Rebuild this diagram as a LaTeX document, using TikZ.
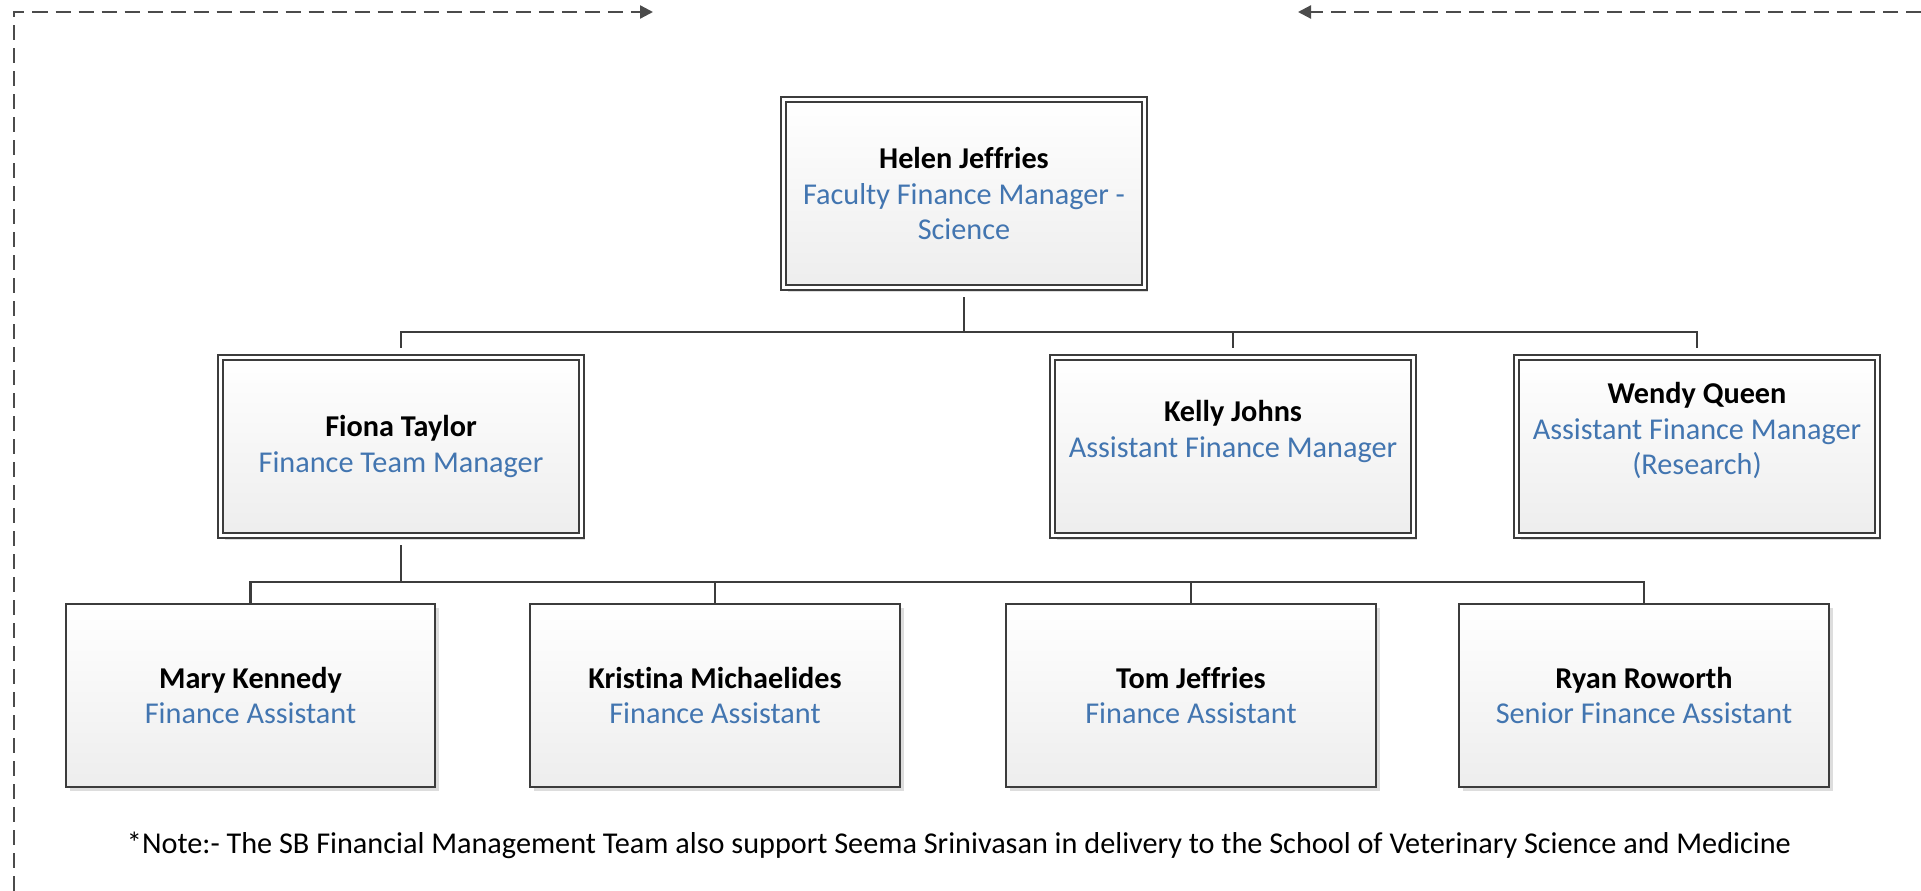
\documentclass[tikz,border=0pt]{standalone}
\usepackage{fontspec}
\setmainfont[Ligatures=NoCommon]{Carlito}
\usetikzlibrary{shadows,arrows.meta}
\definecolor{roleblue}{RGB}{66,117,176}
\definecolor{linegray}{RGB}{60,60,60}
\definecolor{dashgray}{RGB}{75,75,75}
\newcommand{\orgrole}[1]{\textcolor{roleblue}{#1}}

\begin{document}
\begin{tikzpicture}[x=0.01cm,y=-0.01cm,
  staff node/.style={rectangle,draw=linegray,line width=0.55pt,top color=white,bottom color=black!7,
    inner sep=0pt,outer sep=0.25pt,align=center,font=\fontsize{8.6}{10.1}\selectfont,
    drop shadow={shadow xshift=0.04cm,shadow yshift=-0.04cm,opacity=0.22,fill=black!60},
    minimum width=3.69cm,minimum height=1.83cm},
  head node/.style={staff node,double=white,double distance=0.03cm,
    minimum width=3.6cm,minimum height=1.78cm,outer sep=0.095cm},
  conn/.style={draw=linegray,line width=0.7pt},
  frame/.style={draw=dashgray,line width=0.65pt,dash pattern=on 0.15cm off 0.08cm}]
  \useasboundingbox (0,0) rectangle (1921,891);

  % dashed frame
  \coordinate (fb) at (14,891);
  \coordinate (ft) at (14,12);
  \coordinate (fa) at (653,12);
  \coordinate (fr) at (1921,12);
  \coordinate (fc) at (1298,12);
  \draw[frame,-{Triangle[length=0.13cm,width=0.13cm]}] (fb) -- (ft) -- (fa);
  \draw[frame,-{Triangle[length=0.13cm,width=0.13cm]}] (fr) -- (fc);

  % people
  \node[head node,minimum height=1.88cm] (1) at (964,193.5)
    {\textbf{Helen Jeffries}\\\orgrole{Faculty Finance Manager -}\\\orgrole{Science}};
  \node[head node] (21) at (401,446.5) {\textbf{Fiona Taylor}\\\orgrole{Finance Team Manager}};
  \node[head node] (22) at (1233,446.5) {\textbf{Kelly Johns}\\\orgrole{Assistant Finance Manager}\\\mbox{}};
  \node[head node] (23) at (1697,446.5)
    {\textbf{Wendy Queen}\\\orgrole{Assistant Finance Manager}\\\orgrole{(Research)}\\\mbox{}};

  \node[staff node] (31) at (250.5,695.5) {\textbf{Mary Kennedy}\\\orgrole{Finance Assistant}};
  \node[staff node] (32) at (715,695.5) {\textbf{Kristina Michaelides}\\\orgrole{Finance Assistant}};
  \node[staff node] (33) at (1191,695.5) {\textbf{Tom Jeffries}\\\orgrole{Finance Assistant}};
  \node[staff node] (34) at (1644,695.5) {\textbf{Ryan Roworth}\\\orgrole{Senior Finance Assistant}};

  \node[font=\fontsize{8.6}{10.1}\selectfont] (note) at (959,845)
    {*Note:- The SB Financial Management Team also support Seema Srinivasan in delivery to the School of Veterinary Science and Medicine};

  % reporting lines
  \coordinate (b1) at (964,332);
  \coordinate (b2) at (401,582);
  \draw[conn] (1) -- (b1) -| (21);
  \draw[conn] (b1) -| (22);
  \draw[conn] (b1) -| (23);
  \draw[conn] (21) -- (b2) -| (31);
  \draw[conn] (b2) -| (32);
  \draw[conn] (b2) -| (33);
  \draw[conn] (b2) -| (34);
\end{tikzpicture}
\end{document}
